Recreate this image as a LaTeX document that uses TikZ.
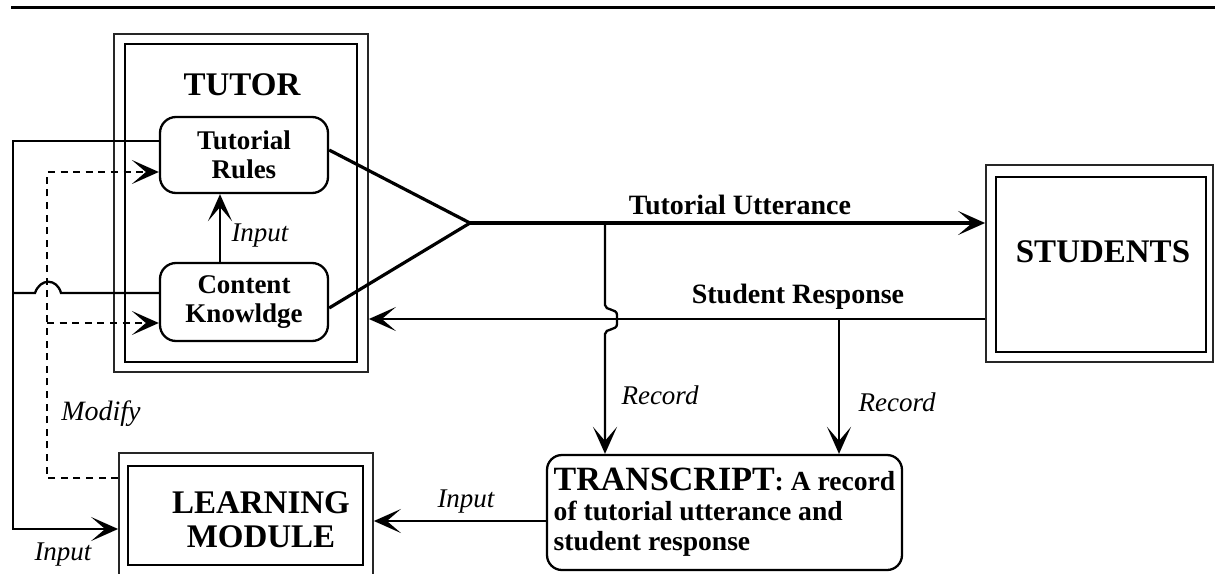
\documentclass[tikz,border=0pt]{standalone}
\usepackage{fontspec}
\setmainfont{Liberation Serif}
\usetikzlibrary{arrows.meta,calc}
\begin{document}
\begin{tikzpicture}[x=0.5pt,y=-0.5pt,
  ln/.style={line width=1.15pt},
  thk/.style={line width=1.6pt},
  arr/.style={-{Stealth[length=13.5pt 0 0,width=12pt 0,inset=7pt 0]}},
  dsh/.style={line width=1.1pt, dash pattern=on 3.5pt off 2.8pt},
  outerbox/.style={draw=black!85, line width=0.9pt, inner sep=0pt},
  innerbox/.style={draw, line width=1.3pt, inner sep=0pt},
  rbox/.style={draw, line width=1.15pt, rounded corners=8pt, inner sep=0pt, align=center, font=\fontsize{13.5}{14.5}\selectfont\bfseries},
  lbl/.style={font=\fontsize{14}{15}\selectfont\bfseries},
  ilbl/.style={font=\fontsize{13.5}{15}\selectfont\itshape},
  title/.style={font=\fontsize{16.5}{17}\selectfont\bfseries, align=center}
]
\useasboundingbox (0,0) rectangle (1215,573);
\clip (0,0) rectangle (1215,573);

% top rule
\draw[line width=1.5pt] (11,7) -- (1215,7);

% TUTOR
\node[outerbox, minimum width=127pt, minimum height=169pt] (tutor) at (241,203) {};
\node[innerbox, minimum width=116pt, minimum height=159pt] (tutorin) at (241,203) {};
\node[title] (tutorlbl) at (242,85) {TUTOR};
\node[rbox, minimum width=84pt, minimum height=38pt] (rules) at (244,155) {Tutorial\\Rules};
\node[rbox, minimum width=84pt, minimum height=39pt] (content) at (244,302) {Content\\Knowldge};

% STUDENTS
\node[outerbox, minimum width=113.5pt, minimum height=98.5pt] (students) at (1099.5,263.5) {};
\node[innerbox, minimum width=105pt, minimum height=87.5pt] (studentsin) at (1101,264.5) {};
\node[title] (studentslbl) at (1103,252) {STUDENTS};

% LEARNING MODULE
\node[outerbox, minimum width=127pt, minimum height=62.5pt] (lm) at (246,515.5) {};
\node[innerbox, minimum width=117.5pt, minimum height=49.5pt] (lmin) at (245.5,515.5) {};
\node[title] (lmlbl) at (261,520) {LEARNING\\MODULE};

% TRANSCRIPT
\node[rbox, align=left, rounded corners=7.5pt, minimum width=177.5pt, minimum height=57.5pt,
      font=\fontsize{13.8}{15}\selectfont\bfseries] (trans) at (724.5,512.5)
  {{\fontsize{17}{15}\selectfont TRANSCRIPT}: A record\\of tutorial utterance and\\student response};

% triangle and tutorial utterance
\coordinate (apex) at (470,223);
\draw[thk, line join=miter] (rules.east |- 0,150) -- (apex) -- (content.east |- 0,308);
\draw[thk, arr] (apex) -- (students.west |- apex);
\node[lbl] (tulbl) at (740,205) {Tutorial Utterance};

% student response
\draw[ln, arr] (students.west |- 0,319) -- (tutor.east |- 0,319);
\node[lbl] (srlbl) at (798,297) {Student Response};

% records
\coordinate (r1) at (605,223);
\draw[ln, arr] (r1) -- (605,305) .. controls (605,311) and (617,308) .. (617,315) -- (617,324)
  .. controls (617,331) and (605,328) .. (605,334) -- (trans.north -| 605,0);
\coordinate (r2) at (839,319);
\draw[ln, arr] (r2) -- (trans.north -| 839,0);
\node[ilbl] (rec1) at (660,395) {Record};
\node[ilbl] (rec2) at (897,402) {Record};

% transcript -> learning module
\draw[ln, arr] (trans.west |- 0,521) -- (lm.east |- 0,521);
\node[ilbl] (in3) at (466,502) {Input};

% content -> rules
\draw[ln, arr] (content.north -| 220,0) -- (rules.south -| 220,0);
\node[ilbl] (in1) at (260,236) {Input};

% left solid feedback
\draw[ln, arr] (rules.west |- 0,141) -- (13,141) -- (13,529) -- (lm.west |- 0,529);
\draw[ln] (content.west |- 0,293) -- (61,293) .. controls (57,278) and (40,278) .. (35,293) -- (13,293);
\node[ilbl] (in2) at (63,555) {Input};

% dashed modify
\draw[dsh, arr] (lm.west |- 0,478) -- (47,478) -- (47,172) -- (rules.west |- 0,172);
\draw[dsh, arr] (47,323) -- (content.west |- 0,323);
\node[ilbl, font=\fontsize{14}{15}\selectfont\itshape] (mod) at (101,414) {Modify};
\end{tikzpicture}
\end{document}
